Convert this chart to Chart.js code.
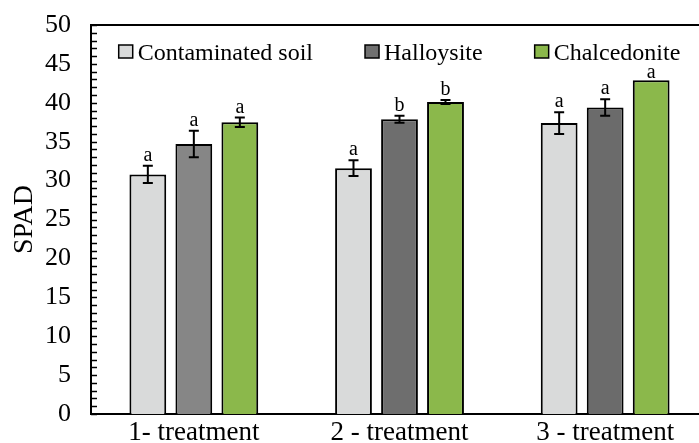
<!DOCTYPE html>
<html>
<head>
<meta charset="utf-8">
<script src="https://cdn.jsdelivr.net/npm/chart.js@4.4.1/dist/chart.umd.min.js"></script>
<style>
  html, body { margin: 0; padding: 0; background: #fff; overflow: hidden; }
</style>
</head>
<body>
<canvas id="spadChart" width="708" height="443"></canvas>
<script>
// data
const treatments = ['1- treatment', '2 - treatment', '3 - treatment'];
const seriesNames = ['Contaminated soil', 'Halloysite', 'Chalcedonite'];
const soilValues = [30.8, 31.6, 37.4];
const halloysiteValues = [34.7, 37.9, 39.4];
const chalcedoniteValues = [37.5, 40.1, 42.9];
const soilErrors = [1.1, 1.0, 1.4];
const halloysiteErrors = [1.7, 0.45, 1.05];
const chalcedoniteErrors = [0.6, 0.25, 0];
const soilLetters = ['a', 'a', 'a'];
const halloysiteLetters = ['a', 'b', 'a'];
const chalcedoniteLetters = ['a', 'b', 'a'];

const serif = "'Liberation Serif', 'Times New Roman', serif";

// error bars, letters, inner ticks, top frame and legend inside the plot
const extras = {
    id: 'extras',
    afterDatasetsDraw(chart) {
        const { ctx, chartArea, scales: { y } } = chart;
        ctx.save();
        ctx.strokeStyle = '#000';

        // small ticks on the inside of the y axis
        ctx.lineWidth = 1.5;
        for (let v = 0; v <= 50; v++) {
            const py = Math.round(y.getPixelForValue(v)) + 0.5;
            ctx.beginPath();
            ctx.moveTo(chartArea.left, py);
            ctx.lineTo(chartArea.left + 6, py);
            ctx.stroke();
        }

        // top frame line
        ctx.lineWidth = 2;
        ctx.beginPath();
        ctx.moveTo(chartArea.left, chartArea.top);
        ctx.lineTo(chartArea.right, chartArea.top);
        ctx.stroke();

        // error bars + letters
        ctx.fillStyle = '#000';
        ctx.font = '20px ' + serif;
        ctx.textAlign = 'center';
        ctx.textBaseline = 'alphabetic';
        chart.data.datasets.forEach((ds, i) => {
            const meta = chart.getDatasetMeta(i);
            meta.data.forEach((bar, j) => {
                const v = ds.data[j];
                const e = ds.errors[j];
                const yTop = y.getPixelForValue(v + e);
                const yBot = y.getPixelForValue(v - e);
                if (e > 0) {
                    ctx.lineWidth = 2;
                    ctx.beginPath();
                    ctx.moveTo(bar.x, yTop);
                    ctx.lineTo(bar.x, yBot);
                    ctx.moveTo(bar.x - 5, yTop);
                    ctx.lineTo(bar.x + 5, yTop);
                    ctx.moveTo(bar.x - 5, yBot);
                    ctx.lineTo(bar.x + 5, yBot);
                    ctx.stroke();
                }
                ctx.fillText(ds.letters[j], bar.x, yTop - (e > 0 ? 5 : 2));
            });
        });

        // legend
        ctx.font = '24px ' + serif;
        ctx.textAlign = 'left';
        const box = 14, boxGap = 5, itemGap = 52;
        const widths = chart.data.datasets.map(ds => box + boxGap + ctx.measureText(ds.label).width);
        const total = widths.reduce((a, b) => a + b, 0) + itemGap * (widths.length - 1);
        let x = (chartArea.left + chartArea.right) / 2 - total / 2;
        chart.data.datasets.forEach((ds, i) => {
            ctx.fillStyle = ds.legendColor;
            ctx.fillRect(x, 45, box, 13);
            ctx.lineWidth = 1.5;
            ctx.strokeRect(x, 45, box, 13);
            ctx.fillStyle = '#000';
            ctx.fillText(ds.label, x + box + boxGap, 60);
            x += widths[i] + itemGap;
        });
        ctx.restore();
    }
};

const chart = new Chart(document.getElementById('spadChart'), {
    type: 'bar',
    data: {
        labels: treatments,
        datasets: [
            {
                label: seriesNames[0],
                data: soilValues,
                errors: soilErrors,
                letters: soilLetters,
                backgroundColor: '#d9dada',
                legendColor: '#d9dada',
                borderColor: '#000',
                borderWidth: 2
            },
            {
                label: seriesNames[1],
                data: halloysiteValues,
                errors: halloysiteErrors,
                letters: halloysiteLetters,
                backgroundColor: ['#868686', '#6e6e6e', '#6b6b6b'],
                legendColor: '#707070',
                borderColor: '#000',
                borderWidth: 2
            },
            {
                label: seriesNames[2],
                data: chalcedoniteValues,
                errors: chalcedoniteErrors,
                letters: chalcedoniteLetters,
                backgroundColor: '#8bb84b',
                legendColor: '#8bb84b',
                borderColor: '#000',
                borderWidth: 2
            }
        ]
    },
    options: {
        responsive: false,
        animation: false,
        categoryPercentage: 0.671,
        barPercentage: 0.8,
        layout: { padding: { top: 25, left: 0, right: 0, bottom: 0 } },
        plugins: {
            legend: { display: false },
            tooltip: { enabled: false }
        },
        scales: {
            x: {
                grid: { display: false, drawTicks: false },
                border: { display: true, color: '#000', width: 2 },
                ticks: { color: '#000', font: { family: serif, size: 27 }, padding: 3 },
                afterFit: (scale) => {
                    scale.height = 29;
                    scale.paddingLeft = 0;
                    scale.paddingRight = 0;
                }
            },
            y: {
                min: 0,
                max: 50,
                grid: { display: false, drawTicks: false },
                border: { display: true, color: '#000', width: 2 },
                ticks: { stepSize: 5, color: '#000', font: { family: serif, size: 26 }, padding: 20 },
                title: {
                    display: true,
                    text: 'SPAD',
                    color: '#000',
                    font: { family: serif, size: 28 },
                    padding: { top: 8, bottom: 0 }
                },
                afterFit: (scale) => {
                    scale.width = 91;
                    scale.paddingTop = 0;
                    scale.paddingBottom = 0;
                }
            }
        }
    },
    plugins: [extras]
});
</script>
</body>
</html>
